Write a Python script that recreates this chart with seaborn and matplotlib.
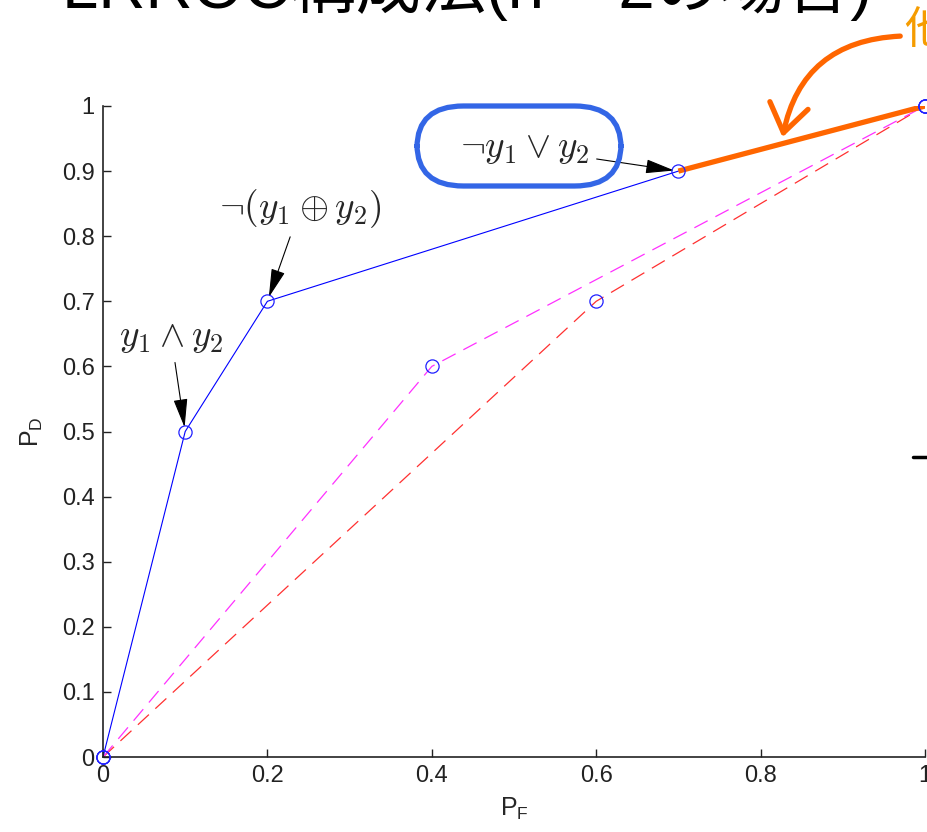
import matplotlib
matplotlib.use("Agg")
import matplotlib.pyplot as plt
import seaborn as sns
import pandas as pd
from matplotlib.patches import FancyBboxPatch, FancyArrowPatch
from matplotlib.lines import Line2D

# ---- data ----
pf_fused = [0.0, 0.1, 0.2, 0.7, 1.0]
pd_fused = [0.0, 0.5, 0.7, 0.9, 1.0]
pf_det1 = [0.0, 0.4, 1.0]
pd_det1 = [0.0, 0.6, 1.0]
pf_det2 = [0.0, 0.6, 1.0]
pd_det2 = [0.0, 0.7, 1.0]
pf_high = [0.7, 1.0]
pd_high = [0.9, 1.0]
xticks = [0, 0.2, 0.4, 0.6, 0.8, 1]
yticks = [0, 0.1, 0.2, 0.3, 0.4, 0.5, 0.6, 0.7, 0.8, 0.9, 1]
title_text = "LRROC構成法(n = 2の場合)"
side_text = "他"
ann_labels = [r"$y_1 \wedge y_2$", r"$\neg(y_1 \oplus y_2)$", r"$\neg y_1 \vee y_2$"]
ann_points = [(0.1, 0.5), (0.2, 0.7), (0.7, 0.9)]
ann_text_pos = [(0.083, 0.645), (0.24, 0.843), (0.513, 0.935)]

sns.set_style("ticks")
plt.rcParams['font.family'] = ['Liberation Sans', 'Noto Sans CJK JP', 'DejaVu Sans']
plt.rcParams['mathtext.fontset'] = 'custom'
plt.rcParams['mathtext.rm'] = 'Liberation Sans'
plt.rcParams['mathtext.it'] = 'Liberation Sans'

W, H = 928, 832
fig = plt.figure(figsize=(W / 100, H / 100), dpi=100)
fig.patch.set_facecolor('white')
ax = fig.add_axes([103 / W, (H - 757) / H, 822 / W, 651 / H])

df_f = pd.DataFrame({"PF": pf_fused, "PD": pd_fused})
df_1 = pd.DataFrame({"PF": pf_det1, "PD": pd_det1})
df_2 = pd.DataFrame({"PF": pf_det2, "PD": pd_det2})
df_h = pd.DataFrame({"PF": pf_high, "PD": pd_high})

sns.lineplot(data=df_2, x="PF", y="PD", ax=ax, sort=False, color='#ff3030', lw=0.9,
             linestyle=(0, (12, 7)), estimator=None)
sns.lineplot(data=df_1, x="PF", y="PD", ax=ax, sort=False, color='#ff30ff', lw=0.9,
             linestyle=(0, (12, 7)), estimator=None)
sns.lineplot(data=df_f, x="PF", y="PD", ax=ax, sort=False, color='#0000ff', lw=0.8,
             estimator=None)
sns.lineplot(data=df_h, x="PF", y="PD", ax=ax, sort=False, color='#ff6600', lw=3.8,
             estimator=None, solid_capstyle='butt')
# circle markers
for d in (df_f, df_1, df_2):
    ax.plot(d["PF"], d["PD"], linestyle='none', marker='o', markersize=9.5,
            markerfacecolor='none', markeredgecolor='#2020ff', markeredgewidth=0.9,
            clip_on=False, zorder=5)

ax.set_xlim(0, 1)
ax.set_ylim(0, 1)
ax.set_xticks(xticks)
ax.set_xticklabels([f"{t:g}" for t in xticks])
ax.set_yticks(yticks)
ax.set_yticklabels([f"{t:g}" for t in yticks])
ax.tick_params(direction='in', length=6, width=1, labelsize=17, colors='#222222',
               labelcolor='#222222')
ax.tick_params(axis='y', pad=6)
ax.tick_params(axis='x', pad=6)
for s in ('top', 'right'):
    ax.spines[s].set_visible(False)
for s in ('left', 'bottom'):
    ax.spines[s].set_linewidth(1.2)
    ax.spines[s].set_color('#222222')
ax.set_facecolor('white')
ax.set_xlabel(r"P$_\mathrm{F}$", fontsize=18, labelpad=6)
ax.set_ylabel(r"P$_\mathrm{D}$", fontsize=18, labelpad=12)

# annotations
arrow_kw = dict(arrowstyle='-|>,head_length=0.9,head_width=0.22', color='black', lw=0.8,
                shrinkA=3, shrinkB=3)
for lab, pt, tp in zip(ann_labels, ann_points, ann_text_pos):
    ax.annotate(lab, xy=pt, xytext=tp, textcoords='data', fontsize=27,
                ha='center', va='center', math_fontfamily='cm',
                arrowprops=dict(arrow_kw, mutation_scale=20))

# blue hand-drawn-like outline
box = FancyBboxPatch((417 / W, (H - 186) / H), 204 / W, 80 / H,
                     boxstyle="round,pad=0,rounding_size=0.05",
                     transform=fig.transFigure, facecolor='none',
                     edgecolor='#3366e6', lw=3.8, zorder=10)
fig.patches.append(box)

# orange curved arrow
arr = FancyArrowPatch((903 / W, (H - 36) / H), (782 / W, (H - 140) / H),
                      transform=fig.transFigure,
                      connectionstyle="arc3,rad=0.4",
                      arrowstyle='->,head_length=0.5,head_width=0.35',
                      mutation_scale=40, color='#ff6600', lw=3.8)
fig.patches.append(arr)

# slide texts
fig.text(62 / W, 1 - 8 / H, title_text, fontsize=47, ha='left', va='baseline',
         color='black', family=['Liberation Sans', 'Noto Sans CJK JP'])
fig.text(904 / W, 1 - 30 / H, side_text, fontsize=32, ha='left', va='center',
         color='#f59c00', family=['Noto Sans CJK JP'])
fig.lines.append(Line2D([913 / W, 1.0], [(H - 457) / H] * 2, transform=fig.transFigure,
                        color='black', lw=2.5))

fig.savefig("out.png", dpi=100)
